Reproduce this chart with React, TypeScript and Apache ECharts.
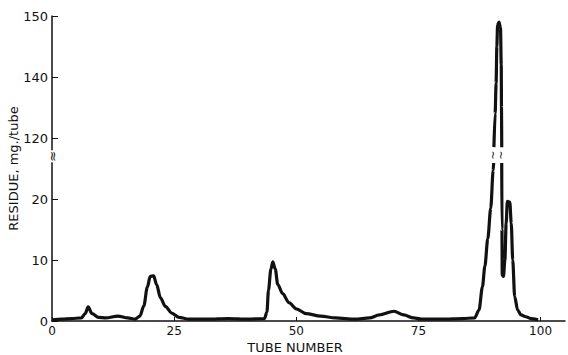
import React, { useEffect, useRef } from "react";
import * as echarts from "echarts";

// Traced curve: tube number and residue (mg./tube)
const tubes = [
  0, 2, 4, 6, 6.8, 7.4, 8.2, 9.5, 11, 13.5, 15.5, 17, 18, 18.8, 19.5, 20.1, 20.8, 21.4, 22.2, 23.2, 24.5, 26, 28,
  32, 36, 40, 43.5, 44, 44.3, 44.8, 45.2, 45.7, 46.2, 47.2, 48.5, 50, 52, 55, 58, 62, 65, 67, 70, 72, 74, 76, 80,
  84, 86.5, 87.4, 88.1, 88.6, 89.2, 89.8, 90.3, 90.4,
  90.45, 90.7, 90.9, 91.05, 91.2, 91.5, 91.8, 91.95, 92.0, 92.05,
  92.05, 92.1, 92.15, 92.4, 92.7, 92.95, 93.2, 93.7, 94.0, 94.3, 94.7, 95.3, 96, 97, 98, 99.5,
];
const residue = [
  0.2, 0.3, 0.4, 0.5, 1.2, 2.3, 1.2, 0.6, 0.5, 0.8, 0.5, 0.3, 0.8, 2.5, 5.5, 7.3, 7.4, 6.0, 3.8, 2.4, 1.3, 0.6, 0.3,
  0.3, 0.4, 0.3, 0.4, 1.5, 5, 8.5, 9.7, 8.5, 6, 4.5, 3, 2, 1.2, 0.8, 0.5, 0.3, 0.5, 1.0, 1.6, 1.0, 0.5, 0.3, 0.3,
  0.4, 0.5, 1.8, 5.6, 9, 13.5, 18.5, 24.7, 25.9,
  117, 128, 138, 145, 148.5, 149, 148, 142, 130, 117,
  25.9, 15, 7.5, 7.3, 10, 16, 19.6, 19.5, 16, 10, 4, 1.8, 1.0, 0.7, 0.4, 0.2,
];

const xTicks = [0, 25, 50, 75, 100];
const yTickLabels = ["0", "10", "20", "120", "140", "150"];

// Broken y axis: 0..20 linear below the break, 120,140,150 above it
function toAxis(v: number): number {
  if (v <= 30) return v / 10;
  if (v <= 140) return 3 + (v - 120) / 20;
  return 4 + (v - 140) / 10;
}

const FONT = "DejaVu Sans";

export default function App() {
  const ref = useRef<HTMLDivElement>(null);
  useEffect(() => {
    if (!ref.current) return;
    const chart = echarts.init(ref.current, undefined, { renderer: "svg" });
    const data: any[] = [];
    const gaps: Array<[number, number]> = [];
    for (let i = 0; i < tubes.length; i++) {
      if (i > 0) {
        const a = residue[i - 1];
        const b = residue[i];
        if ((a <= 30 && b >= 100) || (a >= 100 && b <= 30)) {
          data.push(null);
          gaps.push([(tubes[i - 1] + tubes[i]) / 2, (toAxis(a) + toAxis(b)) / 2]);
        }
      }
      data.push([tubes[i], toAxis(residue[i])]);
    }
    chart.setOption({
      animation: false,
      grid: { left: 52, right: 3, top: 16, bottom: 34, outerBoundsMode: "none", containLabel: false },
      xAxis: {
        type: "value",
        min: 0,
        max: 105,
        interval: 25,
        axisLine: { lineStyle: { color: "#111", width: 1.5 } },
        axisTick: { inside: true, length: 4, lineStyle: { color: "#111" } },
        splitLine: { show: false },
        axisLabel: {
          margin: 4,
          color: "#111",
          fontFamily: FONT,
          fontSize: 12,
          formatter: (v: number) => (xTicks.indexOf(v) >= 0 ? String(v) : ""),
          showMaxLabel: false,
        },
      },
      yAxis: {
        type: "value",
        min: 0,
        max: 5,
        interval: 1,
        name: "RESIDUE, mg./tube",
        nameLocation: "middle",
        nameGap: 32,
        nameMoveOverlap: false,
        nameTextStyle: { color: "#111", fontFamily: FONT, fontSize: 13 },
        axisLine: { show: true, lineStyle: { color: "#111", width: 1.5 } },
        axisTick: { show: true, inside: true, length: 6, lineStyle: { color: "#111" } },
        splitLine: { show: false },
        axisLabel: {
          margin: 4,
          color: "#111",
          fontFamily: FONT,
          fontSize: 13,
          formatter: (v: number) => yTickLabels[Math.round(v)] ?? "",
        },
      },
      series: [
        {
          type: "line",
          data,
          showSymbol: false,
          connectNulls: false,
          smooth: 0.3,
          smoothMonotone: "x",
          lineStyle: { color: "#111", width: 3.2 },
        },
      ],
    });
    const graphics: any[] = [];
    const ax = chart.convertToPixel({ gridIndex: 0 }, [0, 2.7]) as number[];
    graphics.push({
      type: "rect",
      shape: { x: ax[0] - 3, y: ax[1] - 6, width: 6, height: 12 },
      style: { fill: "#fff" },
      z: 100,
    });
    graphics.push({
      type: "text",
      x: ax[0],
      y: ax[1],
      rotation: Math.PI / 2,
      style: { text: "≈", fill: "#111", fontSize: 13, fontFamily: FONT, align: "center", verticalAlign: "middle" },
      z: 101,
    });
    gaps.forEach((g) => {
      const p = chart.convertToPixel({ gridIndex: 0 }, g) as number[];
      graphics.push({
        type: "text",
        x: p[0],
        y: p[1],
        rotation: Math.PI / 2,
        style: { text: "~", fill: "#111", fontSize: 11, fontFamily: FONT, align: "center", verticalAlign: "middle" },
        z: 101,
      });
    });
    graphics.push({
      type: "text",
      x: 295,
      y: 347,
      style: {
        text: "TUBE NUMBER",
        fill: "#111",
        fontSize: 13,
        fontFamily: FONT,
        align: "center",
        verticalAlign: "middle",
      },
    });
    chart.setOption({ graphic: graphics });
    return () => chart.dispose();
  }, []);
  return (
    <div
      ref={ref}
      style={{ position: "fixed", left: 0, top: 0, width: 568, height: 355, background: "#fff" }}
    />
  );
}
